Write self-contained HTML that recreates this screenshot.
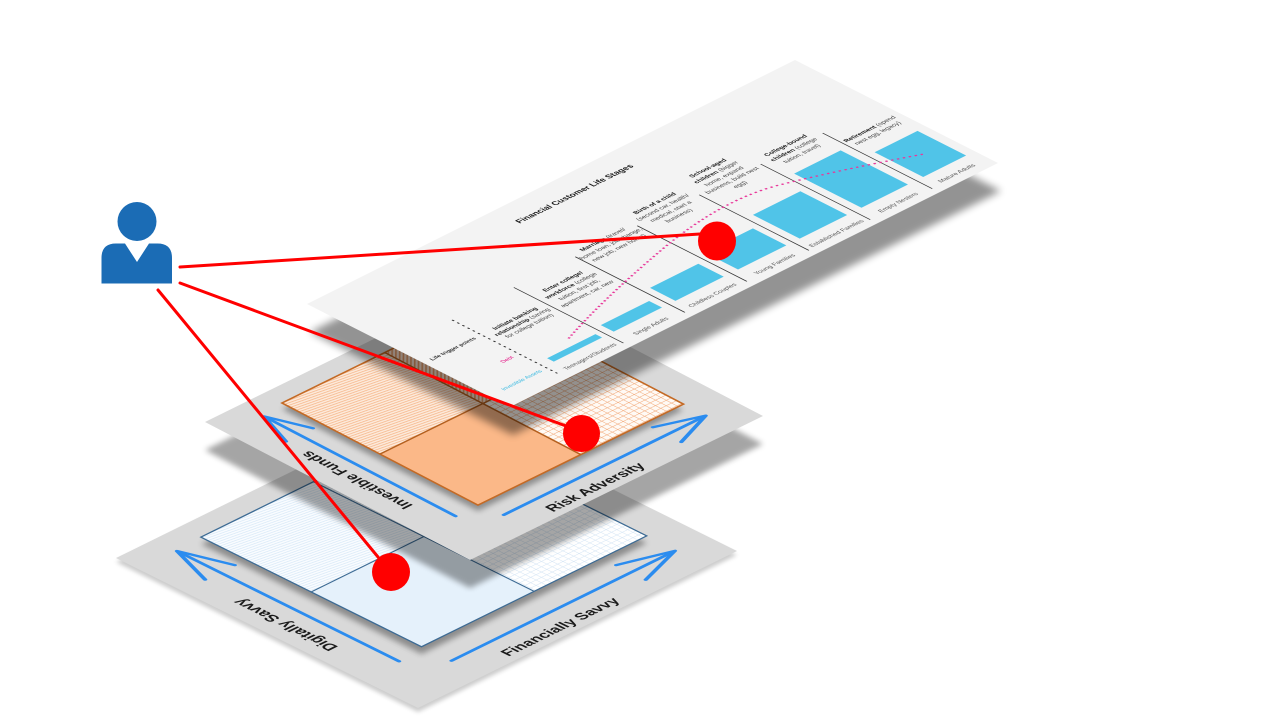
<!DOCTYPE html>
<html><head><meta charset="utf-8">
<style>
html,body{margin:0;padding:0;background:#fff;}
svg{display:block;}
text{font-family:"Liberation Sans",Arial,sans-serif;}
</style></head><body>
<svg width="1280" height="720" viewBox="0 0 1280 720" xmlns="http://www.w3.org/2000/svg">
<defs>
 <filter id="b2" x="-20%" y="-20%" width="140%" height="140%"><feGaussianBlur stdDeviation="2"/></filter>
 <filter id="b3" x="-20%" y="-20%" width="140%" height="140%"><feGaussianBlur stdDeviation="3"/></filter>
 <filter id="b4" x="-20%" y="-20%" width="140%" height="140%"><feGaussianBlur stdDeviation="4"/></filter>
 <pattern id="oHatch" patternUnits="userSpaceOnUse" width="4" height="3.2" patternTransform="rotate(9)">
  <rect width="4" height="3.2" fill="#fdeadb"/><rect width="4" height="1.2" fill="#f6bd94"/>
 </pattern>
 <pattern id="oGrid" patternUnits="userSpaceOnUse" width="6" height="6">
  <rect width="6" height="6" fill="#fffaf5"/><path d="M0,0.3H6M0.3,0V6" stroke="#f1a776" stroke-width="0.6"/>
 </pattern>
 <pattern id="oDiag" patternUnits="userSpaceOnUse" width="4" height="3" patternTransform="rotate(-45)">
  <rect width="4" height="3" fill="#fde4d2"/><rect width="4" height="1.3" fill="#e59b68"/>
 </pattern>
 <pattern id="bHatch" patternUnits="userSpaceOnUse" width="4" height="3.2" patternTransform="rotate(9)">
  <rect width="4" height="3.2" fill="#f9fcff"/><rect width="4" height="1.1" fill="#dcebf8"/>
 </pattern>
 <pattern id="bGrid" patternUnits="userSpaceOnUse" width="6" height="6">
  <rect width="6" height="6" fill="#ffffff"/><path d="M0,0.3H6M0.3,0V6" stroke="#d3e4f4" stroke-width="0.6"/>
 </pattern>
</defs>

<!-- ===== Bottom plane ===== -->
<polygon points="116,562 435,405 737,555 418,712" fill="#000" opacity="0.2" filter="url(#b2)"/>
<polygon points="116,558 435,401 737,551 418,708" fill="#d9d9d9"/>
<polygon points="201,544 426,433 647,543 421.5,654" fill="#000" opacity="0.35" filter="url(#b3)"/>
<g transform="matrix(0.8972,-0.4416,0.8956,0.4448,116,558)">
 <rect x="71" y="23.6" width="125.5" height="123.2" fill="url(#bHatch)"/>
 <rect x="71" y="146.8" width="125.5" height="123.2" fill="#e5f1fb"/>
 <rect x="196.5" y="146.8" width="125.5" height="123.2" fill="url(#bGrid)"/>
 <rect x="196.5" y="23.6" width="125.5" height="123.2" fill="url(#bHatch)"/>
 <rect x="71" y="23.6" width="251" height="246.4" fill="none" stroke="#3d6b94" stroke-width="1.6"/>
 <path d="M196.5,23.6V270M71,146.8H322" stroke="#3d6b94" stroke-width="1.4" fill="none"/>
 <g stroke="#2b8cef" stroke-width="3.5" fill="none" stroke-linecap="round" stroke-linejoin="round">
  <path d="M42,274V28"/>
  <path d="M58.5,74L42,26L25.5,74"/>
  <path d="M72,302.5H319"/>
  <path d="M272,286L321,302.5L272,319"/>
 </g>
 <text transform="translate(24.5,169.6) rotate(-90)" text-anchor="middle" font-size="15.5" font-weight="bold" fill="#1a1a1a">Digitally Savvy</text>
 <text x="171" y="329.5" text-anchor="middle" font-size="15" font-weight="bold" fill="#1a1a1a">Financially Savvy</text>
</g>

<!-- ===== Middle plane ===== -->
<polygon points="205,450 498,306 763,444 470,588" fill="#000" opacity="0.35" filter="url(#b3)"/>
<polygon points="205,422 498,278 763,416 470,560" fill="#d9d9d9"/>
<polygon points="282,409 487,308 683,410 478,511" fill="#000" opacity="0.35" filter="url(#b3)"/>
<g transform="matrix(0.8975,-0.4411,0.8869,0.4619,205,422)">
 <rect x="65" y="21" width="114.5" height="110.5" fill="url(#oHatch)"/>
 <rect x="65" y="131.5" width="114.5" height="110.5" fill="#fbb888"/>
 <rect x="179.5" y="131.5" width="114.5" height="110.5" fill="url(#oGrid)"/>
 <rect x="179.5" y="21" width="114.5" height="110.5" fill="url(#oDiag)"/>
 <rect x="65" y="21" width="229" height="221" fill="none" stroke="#c46a25" stroke-width="2"/>
 <path d="M179.5,21V242M65,131.5H294" stroke="#b4601f" stroke-width="1.8" fill="none"/>
 <g stroke="#2b8cef" stroke-width="3.5" fill="none" stroke-linecap="round" stroke-linejoin="round">
  <path d="M40,242V28"/>
  <path d="M55,66L40,26L25,66"/>
  <path d="M69,267H292"/>
  <path d="M251,251L294,267L251,283"/>
 </g>
 <text transform="translate(28,147.7) rotate(-90)" text-anchor="middle" font-size="15" font-weight="bold" fill="#1a1a1a">Investible Funds</text>
 <text x="152" y="291" text-anchor="middle" font-size="15" font-weight="bold" fill="#1a1a1a">Risk Adversity</text>
</g>

<!-- ===== Top plane ===== -->
<polygon points="310,332 798,88 1001,191 513,435" fill="#000" opacity="0.42" filter="url(#b4)"/>
<g transform="matrix(0.8944,-0.4472,0.8919,0.4525,307,304)">
 <rect width="545.6" height="227.6" fill="#f3f3f3"/>
 <text x="273" y="29" font-size="8.6" font-weight="bold" text-anchor="middle" fill="#1a1a1a">Financial Customer Life Stages</text>
 <line x1="64" y1="99" x2="64" y2="216" stroke="#333" stroke-width="1.3" stroke-dasharray="1.2 4.6" stroke-linecap="round"/>
 <g stroke="#333" stroke-width="0.9">
  <line x1="134.8" y1="96.7" x2="134.8" y2="219.6"/>
  <line x1="203.5" y1="96.7" x2="203.5" y2="219.6"/>
  <line x1="272.8" y1="96.7" x2="272.8" y2="219.6"/>
  <line x1="342.1" y1="96.7" x2="342.1" y2="219.6"/>
  <line x1="410.8" y1="96.7" x2="410.8" y2="219.6"/>
  <line x1="480.1" y1="96.7" x2="480.1" y2="219.6"/>
 </g>
 <g fill="#50c4e8">
  <rect x="75" y="194" width="54" height="7.5"/>
  <rect x="142" y="187" width="54" height="14.5"/>
  <rect x="211" y="173" width="54" height="28.5"/>
  <rect x="281" y="164" width="54" height="37.5"/>
  <rect x="350" y="149" width="53" height="52.5"/>
  <rect x="419" y="126" width="52" height="75.5"/>
  <rect x="488" y="147" width="48" height="54.5"/>
 </g>
 <path d="M109,184 Q170,160 260,137 T400,131 Q455,149.7 513,176" fill="none" stroke="#e8389a" stroke-width="2" stroke-dasharray="2 3"/>
 <text x="57" y="133" font-size="5.8" font-weight="bold" fill="#333" text-anchor="end">Life trigger points</text>
 <text x="57" y="175" font-size="5.8" fill="#e4007c" text-anchor="end">Debt</text>
 <text x="58" y="206" font-size="5.8" fill="#35b8e0" text-anchor="end">Investible Assets</text>
 <g font-size="6.4" fill="#555" text-anchor="middle">
  <text x="101" y="218">Teenagers/Students</text>
  <text x="169" y="218">Single Adults</text>
  <text x="238" y="218">Childless Couples</text>
  <text x="307.5" y="218">Young Families</text>
  <text x="376.5" y="218">Established Families</text>
  <text x="445.5" y="218">Empty Nesters</text>
  <text x="511" y="218">Mature Adults</text>
 </g>
 <g font-size="6.5" fill="#444" text-anchor="middle">
  <text x="101" y="134"><tspan font-weight="bold" fill="#1a1a1a">Initiate banking</tspan></text>
  <text x="101" y="142"><tspan font-weight="bold" fill="#1a1a1a">relationship</tspan> (saving</text>
  <text x="101" y="150">for college tuition)</text>

  <text x="169" y="119.5"><tspan font-weight="bold" fill="#1a1a1a">Enter college/</tspan></text>
  <text x="169" y="128.5"><tspan font-weight="bold" fill="#1a1a1a">workforce</tspan> (college</text>
  <text x="169" y="137.5">tuition, first job,</text>
  <text x="169" y="146.5">apartment, car, new</text>

  <text x="238" y="95"><tspan font-weight="bold" fill="#1a1a1a">Marriage</tspan> (travel/</text>
  <text x="238" y="104">home loan, job change,</text>
  <text x="238" y="113">new job, new home)</text>

  <text x="307.5" y="83.5"><tspan font-weight="bold" fill="#1a1a1a">Birth of a child</tspan></text>
  <text x="307.5" y="92.5">(second car, health/</text>
  <text x="307.5" y="101.5">medical, start a</text>
  <text x="307.5" y="110.5">business)</text>

  <text x="376.5" y="74"><tspan font-weight="bold" fill="#1a1a1a">School-aged</tspan></text>
  <text x="376.5" y="83"><tspan font-weight="bold" fill="#1a1a1a">children</tspan> (bigger</text>
  <text x="376.5" y="92">home, expand</text>
  <text x="376.5" y="101">business, build nest</text>
  <text x="376.5" y="110">egg)</text>

  <text x="445.5" y="92"><tspan font-weight="bold" fill="#1a1a1a">College-bound</tspan></text>
  <text x="445.5" y="101"><tspan font-weight="bold" fill="#1a1a1a">children</tspan> (college</text>
  <text x="445.5" y="110">tuition, travel)</text>

  <text x="511" y="120.5"><tspan font-weight="bold" fill="#1a1a1a">Retirement</tspan> (spend</text>
  <text x="511" y="129.5">nest egg, legacy)</text>
 </g>
</g>

<!-- ===== Red connectors ===== -->
<g stroke="#ff0000" stroke-width="3" stroke-linecap="round" fill="none">
 <line x1="180" y1="267" x2="700" y2="234"/>
 <line x1="180" y1="283" x2="566" y2="426"/>
 <line x1="158" y1="290" x2="378" y2="557"/>
</g>
<ellipse cx="717" cy="241" rx="19" ry="19.5" fill="#ff0000"/>
<ellipse cx="581.5" cy="433.5" rx="18.5" ry="18.5" fill="#ff0000"/>
<ellipse cx="391" cy="572" rx="19" ry="19" fill="#ff0000"/>

<!-- ===== Person icon ===== -->
<circle cx="137" cy="221.5" r="19.5" fill="#1b6cb5"/>
<path d="M101.5,283.5 V258 Q101.5,243.5 116,243.5 H125 L137,262 L149,243.5 H157.5 Q172,243.5 172,258 V283.5 Z" fill="#1b6cb5"/>
</svg>
</body></html>
